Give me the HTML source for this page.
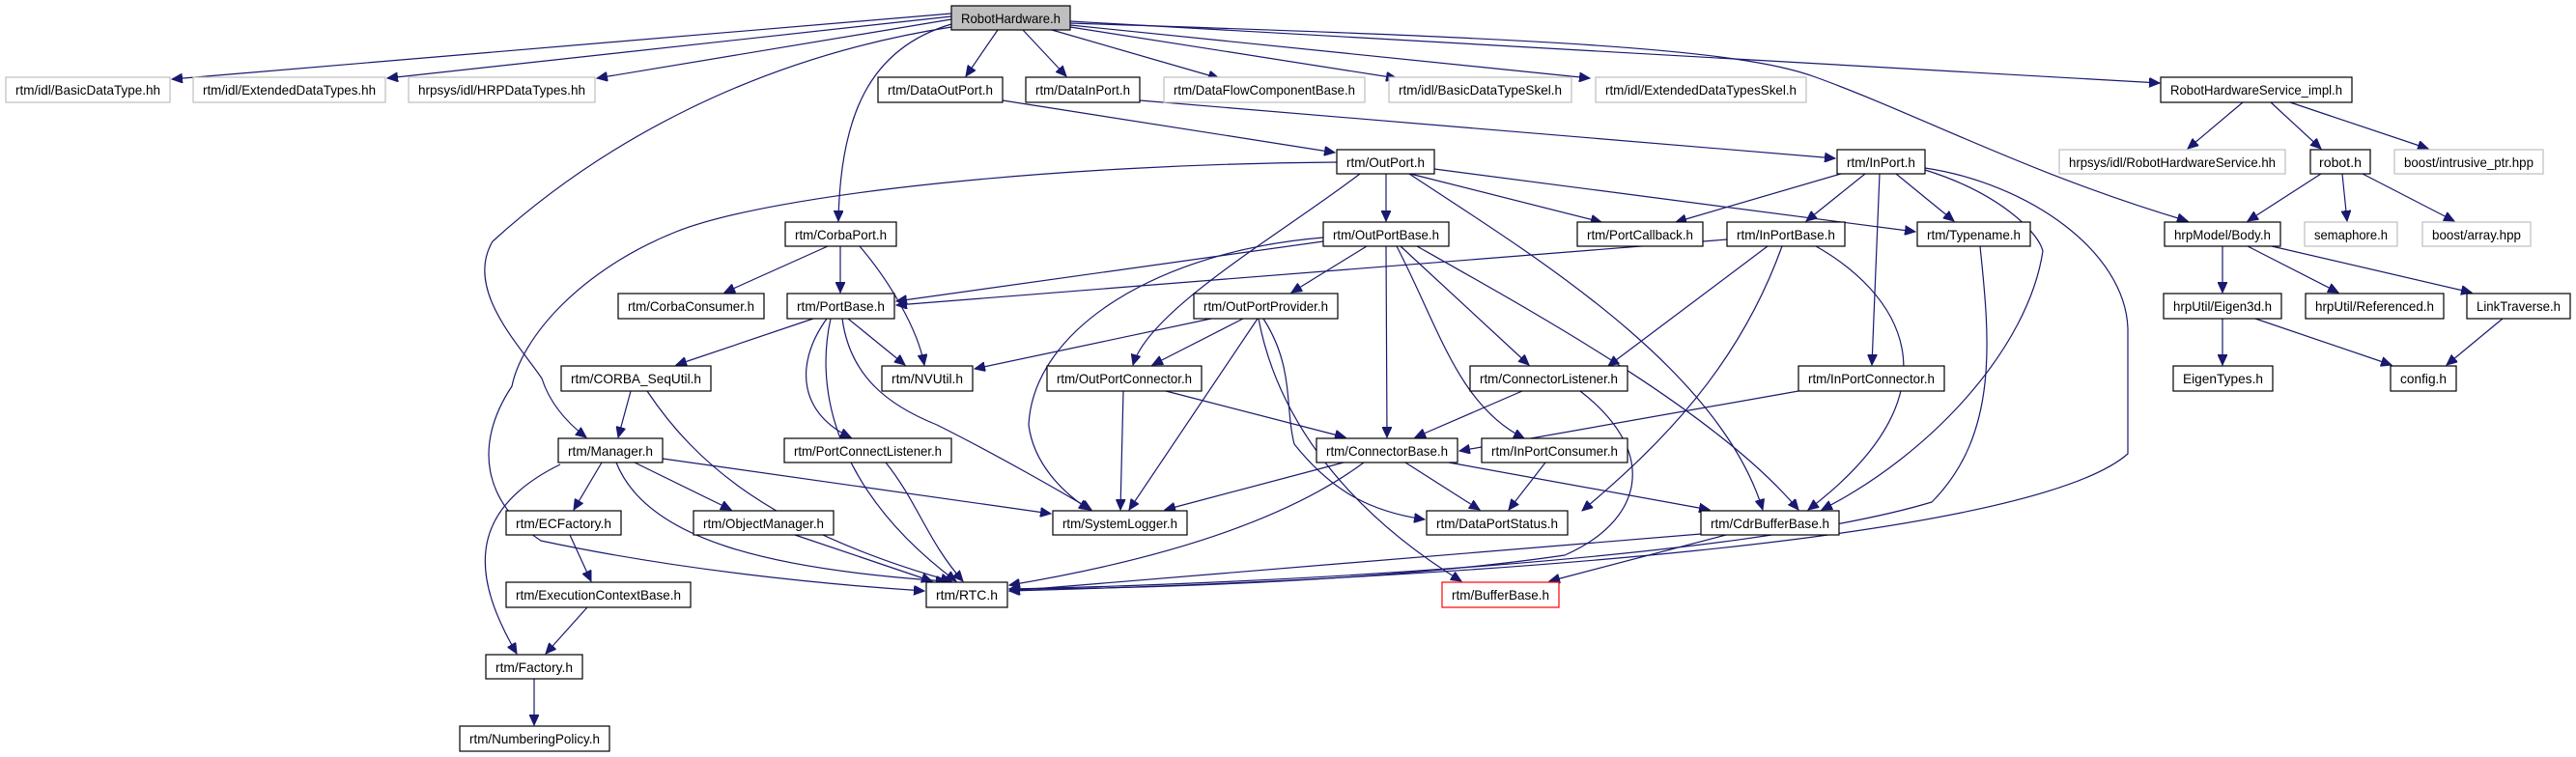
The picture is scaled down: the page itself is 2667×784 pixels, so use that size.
<!DOCTYPE html>
<html><head><meta charset="utf-8"><style>
html,body{margin:0;padding:0;background:#fff;}
svg{display:block;}
text{font-family:"Liberation Sans",sans-serif;font-size:14px;fill:#000;}
.n{fill:#fff;stroke:#000;stroke-width:1.2;}
.g{fill:#fff;stroke:#bfbfbf;stroke-width:1.2;}
.r{fill:#fff;stroke:#ff0000;stroke-width:1.2;}
.e path{fill:none;stroke:#191970;stroke-width:1.2;}
</style></head><body>
<svg width="2667" height="784" viewBox="0 0 2667 784" xmlns="http://www.w3.org/2000/svg">
<defs><marker id="a" markerUnits="userSpaceOnUse" markerWidth="12" markerHeight="10" refX="11" refY="5" orient="auto"><path d="M0,0 L11,5 L0,10 z" fill="#191970" stroke="#191970"/></marker></defs>
<g class="e" marker-end="url(#a)">
<path d="M985,14 L178,82" marker-end="url(#a)"/>
<path d="M985,17 L401,81" marker-end="url(#a)"/>
<path d="M985,20 L618,81" marker-end="url(#a)"/>
<path d="M985,25 C900,50 870,120 868,229" marker-end="url(#a)"/>
<path d="M985,28 C780,60 620,150 510,250 C480,300 540,360 561,392 C570,420 590,440 607,453" marker-end="url(#a)"/>
<path d="M1033,31 L1000,79" marker-end="url(#a)"/>
<path d="M1059,31 L1104,79" marker-end="url(#a)"/>
<path d="M1089,31 L1262,81" marker-end="url(#a)"/>
<path d="M1108,28 L1446,81" marker-end="url(#a)"/>
<path d="M1108,26 L1646,81" marker-end="url(#a)"/>
<path d="M1108,22 L2236,86" marker-end="url(#a)"/>
<path d="M1108,24 C1600,40 1800,50 1880,80 C1990,120 2100,180 2265,229" marker-end="url(#a)"/>
<path d="M1038,104 L1382,158" marker-end="url(#a)"/>
<path d="M1180,104 L1900,164" marker-end="url(#a)"/>
<path d="M1384,168 C1100,170 800,200 700,240 C600,280 540,350 530,400 C490,460 500,520 560,560 C700,590 850,605 957,612" marker-end="url(#a)"/>
<path d="M1408,180 C1330,240 1190,320 1173,378" marker-end="url(#a)"/>
<path d="M1435,180 L1435,229" marker-end="url(#a)"/>
<path d="M1460,180 L1658,230" marker-end="url(#a)"/>
<path d="M1485,175 L1983,240" marker-end="url(#a)"/>
<path d="M1459,180 C1580,260 1780,380 1825,528" marker-end="url(#a)"/>
<path d="M1906,180 L1735,230" marker-end="url(#a)"/>
<path d="M1931,180 L1870,229" marker-end="url(#a)"/>
<path d="M1946,180 L1938,378" marker-end="url(#a)"/>
<path d="M1963,180 L2023,229" marker-end="url(#a)"/>
<path d="M1993,174 C2100,190 2200,260 2203,340 L2203,470 C2100,560 1500,600 1045,612" marker-end="url(#a)"/>
<path d="M1993,176 C2070,200 2110,240 2115,260 C2100,360 2000,470 1886,528" marker-end="url(#a)"/>
<path d="M1788,248 L928,316" marker-end="url(#a)"/>
<path d="M1830,255 L1665,379" marker-end="url(#a)"/>
<path d="M1845,255 C1800,380 1720,460 1638,529" marker-end="url(#a)"/>
<path d="M1880,255 C1960,300 2040,400 1872,528" marker-end="url(#a)"/>
<path d="M2050,255 C2060,350 2070,450 2000,520 C1800,580 1300,605 1045,610" marker-end="url(#a)"/>
<path d="M1370,250 L928,312" marker-end="url(#a)"/>
<path d="M1370,246 C1200,260 1070,340 1065,440 C1070,480 1100,510 1128,528" marker-end="url(#a)"/>
<path d="M1415,255 L1337,303" marker-end="url(#a)"/>
<path d="M1435,255 L1436,453" marker-end="url(#a)"/>
<path d="M1446,255 C1490,340 1510,420 1578,454" marker-end="url(#a)"/>
<path d="M1450,255 L1583,378" marker-end="url(#a)"/>
<path d="M1467,255 C1600,330 1780,430 1862,528" marker-end="url(#a)"/>
<path d="M857,255 L750,303" marker-end="url(#a)"/>
<path d="M870,255 L870,303" marker-end="url(#a)"/>
<path d="M890,255 C920,290 950,340 957,378" marker-end="url(#a)"/>
<path d="M842,330 L700,378" marker-end="url(#a)"/>
<path d="M878,330 L937,378" marker-end="url(#a)"/>
<path d="M856,330 C820,380 830,430 881,453" marker-end="url(#a)"/>
<path d="M860,330 C840,420 880,520 990,602" marker-end="url(#a)"/>
<path d="M872,330 C880,390 920,420 970,440 C1030,470 1100,510 1130,528" marker-end="url(#a)"/>
<path d="M653,405 L640,453" marker-end="url(#a)"/>
<path d="M670,405 C720,480 800,550 985,602" marker-end="url(#a)"/>
<path d="M623,479 L594,528" marker-end="url(#a)"/>
<path d="M657,479 L757,528" marker-end="url(#a)"/>
<path d="M686,475 L1088,532" marker-end="url(#a)"/>
<path d="M638,479 C670,560 800,590 980,602" marker-end="url(#a)"/>
<path d="M580,481 C480,530 490,600 535,677" marker-end="url(#a)"/>
<path d="M590,554 L612,602" marker-end="url(#a)"/>
<path d="M608,629 L565,677" marker-end="url(#a)"/>
<path d="M823,554 L965,602" marker-end="url(#a)"/>
<path d="M553,703 L553,751" marker-end="url(#a)"/>
<path d="M917,479 C950,520 960,560 997,602" marker-end="url(#a)"/>
<path d="M1254,330 L1009,382" marker-end="url(#a)"/>
<path d="M1287,330 L1193,378" marker-end="url(#a)"/>
<path d="M1302,330 L1169,528" marker-end="url(#a)"/>
<path d="M1308,330 C1340,380 1330,420 1340,460 C1380,510 1420,530 1475,538" marker-end="url(#a)"/>
<path d="M1303,330 C1320,420 1380,520 1513,602" marker-end="url(#a)"/>
<path d="M1163,405 L1160,528" marker-end="url(#a)"/>
<path d="M1207,405 L1393,453" marker-end="url(#a)"/>
<path d="M1576,405 L1465,453" marker-end="url(#a)"/>
<path d="M1636,405 C1720,470 1700,540 1620,575 C1450,600 1200,610 1045,610" marker-end="url(#a)"/>
<path d="M1862,405 L1511,467" marker-end="url(#a)"/>
<path d="M1391,479 L1206,528" marker-end="url(#a)"/>
<path d="M1412,479 C1330,540 1200,580 1045,606" marker-end="url(#a)"/>
<path d="M1455,479 L1532,528" marker-end="url(#a)"/>
<path d="M1500,479 L1770,528" marker-end="url(#a)"/>
<path d="M1600,479 L1562,528" marker-end="url(#a)"/>
<path d="M1761,553 L1045,612" marker-end="url(#a)"/>
<path d="M1787,554 L1604,602" marker-end="url(#a)"/>
<path d="M2322,106 L2265,154" marker-end="url(#a)"/>
<path d="M2351,106 L2403,154" marker-end="url(#a)"/>
<path d="M2371,106 L2514,154" marker-end="url(#a)"/>
<path d="M2403,180 L2327,229" marker-end="url(#a)"/>
<path d="M2425,180 L2430,229" marker-end="url(#a)"/>
<path d="M2446,180 L2541,229" marker-end="url(#a)"/>
<path d="M2301,255 L2301,303" marker-end="url(#a)"/>
<path d="M2327,255 L2421,303" marker-end="url(#a)"/>
<path d="M2352,255 L2559,303" marker-end="url(#a)"/>
<path d="M2301,330 L2301,378" marker-end="url(#a)"/>
<path d="M2335,330 L2476,378" marker-end="url(#a)"/>
<path d="M2591,330 L2533,378" marker-end="url(#a)"/>
</g>
<g>
<rect x="985" y="6" width="123" height="25" fill="#bfbfbf" stroke="#000" stroke-width="1.2"/><text x="1046.5" y="24" text-anchor="middle" textLength="103" lengthAdjust="spacingAndGlyphs">RobotHardware.h</text>
<rect class="g" x="6" y="80" width="170" height="26"/><text x="91" y="98" text-anchor="middle" textLength="150" lengthAdjust="spacingAndGlyphs">rtm/idl/BasicDataType.hh</text>
<rect class="g" x="200" y="80" width="199" height="26"/><text x="299.5" y="98" text-anchor="middle" textLength="179" lengthAdjust="spacingAndGlyphs">rtm/idl/ExtendedDataTypes.hh</text>
<rect class="g" x="423" y="80" width="193" height="26"/><text x="519.5" y="98" text-anchor="middle" textLength="173" lengthAdjust="spacingAndGlyphs">hrpsys/idl/HRPDataTypes.hh</text>
<rect class="n" x="909" y="80" width="129" height="26"/><text x="973.5" y="98" text-anchor="middle" textLength="109" lengthAdjust="spacingAndGlyphs">rtm/DataOutPort.h</text>
<rect class="n" x="1062" y="80" width="118" height="26"/><text x="1121" y="98" text-anchor="middle" textLength="98" lengthAdjust="spacingAndGlyphs">rtm/DataInPort.h</text>
<rect class="g" x="1205" y="80" width="208" height="26"/><text x="1309" y="98" text-anchor="middle" textLength="188" lengthAdjust="spacingAndGlyphs">rtm/DataFlowComponentBase.h</text>
<rect class="g" x="1438" y="80" width="189" height="26"/><text x="1532.5" y="98" text-anchor="middle" textLength="169" lengthAdjust="spacingAndGlyphs">rtm/idl/BasicDataTypeSkel.h</text>
<rect class="g" x="1652" y="80" width="218" height="26"/><text x="1761" y="98" text-anchor="middle" textLength="198" lengthAdjust="spacingAndGlyphs">rtm/idl/ExtendedDataTypesSkel.h</text>
<rect class="n" x="2237" y="80" width="198" height="26"/><text x="2336" y="98" text-anchor="middle" textLength="178" lengthAdjust="spacingAndGlyphs">RobotHardwareService_impl.h</text>
<rect class="n" x="1384" y="155" width="101" height="25"/><text x="1434.5" y="173" text-anchor="middle" textLength="81" lengthAdjust="spacingAndGlyphs">rtm/OutPort.h</text>
<rect class="n" x="1902" y="155" width="91" height="25"/><text x="1947.5" y="173" text-anchor="middle" textLength="71" lengthAdjust="spacingAndGlyphs">rtm/InPort.h</text>
<rect class="g" x="2132" y="155" width="234" height="25"/><text x="2249" y="173" text-anchor="middle" textLength="214" lengthAdjust="spacingAndGlyphs">hrpsys/idl/RobotHardwareService.hh</text>
<rect class="n" x="2392" y="155" width="62" height="25"/><text x="2423" y="173" text-anchor="middle" textLength="44" lengthAdjust="spacingAndGlyphs">robot.h</text>
<rect class="g" x="2479" y="155" width="154" height="25"/><text x="2556" y="173" text-anchor="middle" textLength="134" lengthAdjust="spacingAndGlyphs">boost/intrusive_ptr.hpp</text>
<rect class="n" x="813" y="230" width="115" height="25"/><text x="870.5" y="248" text-anchor="middle" textLength="95" lengthAdjust="spacingAndGlyphs">rtm/CorbaPort.h</text>
<rect class="n" x="1370" y="230" width="130" height="25"/><text x="1435" y="248" text-anchor="middle" textLength="110" lengthAdjust="spacingAndGlyphs">rtm/OutPortBase.h</text>
<rect class="n" x="1633" y="230" width="130" height="25"/><text x="1698" y="248" text-anchor="middle" textLength="110" lengthAdjust="spacingAndGlyphs">rtm/PortCallback.h</text>
<rect class="n" x="1788" y="230" width="122" height="25"/><text x="1849" y="248" text-anchor="middle" textLength="102" lengthAdjust="spacingAndGlyphs">rtm/InPortBase.h</text>
<rect class="n" x="1985" y="230" width="117" height="25"/><text x="2043.5" y="248" text-anchor="middle" textLength="97" lengthAdjust="spacingAndGlyphs">rtm/Typename.h</text>
<rect class="n" x="2241" y="230" width="120" height="25"/><text x="2301" y="248" text-anchor="middle" textLength="100" lengthAdjust="spacingAndGlyphs">hrpModel/Body.h</text>
<rect class="g" x="2386" y="230" width="96" height="25"/><text x="2434" y="248" text-anchor="middle" textLength="76" lengthAdjust="spacingAndGlyphs">semaphore.h</text>
<rect class="g" x="2508" y="230" width="112" height="25"/><text x="2564" y="248" text-anchor="middle" textLength="92" lengthAdjust="spacingAndGlyphs">boost/array.hpp</text>
<rect class="n" x="640" y="304" width="151" height="26"/><text x="715.5" y="322" text-anchor="middle" textLength="131" lengthAdjust="spacingAndGlyphs">rtm/CorbaConsumer.h</text>
<rect class="n" x="815" y="304" width="111" height="26"/><text x="870.5" y="322" text-anchor="middle" textLength="91" lengthAdjust="spacingAndGlyphs">rtm/PortBase.h</text>
<rect class="n" x="1236" y="304" width="149" height="26"/><text x="1310.5" y="322" text-anchor="middle" textLength="129" lengthAdjust="spacingAndGlyphs">rtm/OutPortProvider.h</text>
<rect class="n" x="2240" y="304" width="122" height="26"/><text x="2301" y="322" text-anchor="middle" textLength="102" lengthAdjust="spacingAndGlyphs">hrpUtil/Eigen3d.h</text>
<rect class="n" x="2387" y="304" width="143" height="26"/><text x="2458.5" y="322" text-anchor="middle" textLength="123" lengthAdjust="spacingAndGlyphs">hrpUtil/Referenced.h</text>
<rect class="n" x="2554" y="304" width="107" height="26"/><text x="2607.5" y="322" text-anchor="middle" textLength="87" lengthAdjust="spacingAndGlyphs">LinkTraverse.h</text>
<rect class="n" x="581" y="379" width="155" height="26"/><text x="658.5" y="397" text-anchor="middle" textLength="135" lengthAdjust="spacingAndGlyphs">rtm/CORBA_SeqUtil.h</text>
<rect class="n" x="913" y="379" width="94" height="26"/><text x="960" y="397" text-anchor="middle" textLength="74" lengthAdjust="spacingAndGlyphs">rtm/NVUtil.h</text>
<rect class="n" x="1084" y="379" width="160" height="26"/><text x="1164" y="397" text-anchor="middle" textLength="140" lengthAdjust="spacingAndGlyphs">rtm/OutPortConnector.h</text>
<rect class="n" x="1522" y="379" width="163" height="26"/><text x="1603.5" y="397" text-anchor="middle" textLength="143" lengthAdjust="spacingAndGlyphs">rtm/ConnectorListener.h</text>
<rect class="n" x="1862" y="379" width="151" height="26"/><text x="1937.5" y="397" text-anchor="middle" textLength="131" lengthAdjust="spacingAndGlyphs">rtm/InPortConnector.h</text>
<rect class="n" x="2250" y="379" width="103" height="26"/><text x="2301.5" y="397" text-anchor="middle" textLength="83" lengthAdjust="spacingAndGlyphs">EigenTypes.h</text>
<rect class="n" x="2475" y="379" width="68" height="26"/><text x="2509" y="397" text-anchor="middle" textLength="48" lengthAdjust="spacingAndGlyphs">config.h</text>
<rect class="n" x="578" y="454" width="108" height="25"/><text x="632" y="472" text-anchor="middle" textLength="88" lengthAdjust="spacingAndGlyphs">rtm/Manager.h</text>
<rect class="n" x="812" y="454" width="173" height="25"/><text x="898.5" y="472" text-anchor="middle" textLength="153" lengthAdjust="spacingAndGlyphs">rtm/PortConnectListener.h</text>
<rect class="n" x="1363" y="454" width="146" height="25"/><text x="1436" y="472" text-anchor="middle" textLength="126" lengthAdjust="spacingAndGlyphs">rtm/ConnectorBase.h</text>
<rect class="n" x="1534" y="454" width="151" height="25"/><text x="1609.5" y="472" text-anchor="middle" textLength="131" lengthAdjust="spacingAndGlyphs">rtm/InPortConsumer.h</text>
<rect class="n" x="524" y="529" width="119" height="25"/><text x="583.5" y="547" text-anchor="middle" textLength="99" lengthAdjust="spacingAndGlyphs">rtm/ECFactory.h</text>
<rect class="n" x="718" y="529" width="145" height="25"/><text x="790.5" y="547" text-anchor="middle" textLength="125" lengthAdjust="spacingAndGlyphs">rtm/ObjectManager.h</text>
<rect class="n" x="1090" y="529" width="139" height="25"/><text x="1159.5" y="547" text-anchor="middle" textLength="119" lengthAdjust="spacingAndGlyphs">rtm/SystemLogger.h</text>
<rect class="n" x="1477" y="529" width="146" height="25"/><text x="1550" y="547" text-anchor="middle" textLength="126" lengthAdjust="spacingAndGlyphs">rtm/DataPortStatus.h</text>
<rect class="n" x="1761" y="529" width="143" height="25"/><text x="1832.5" y="547" text-anchor="middle" textLength="123" lengthAdjust="spacingAndGlyphs">rtm/CdrBufferBase.h</text>
<rect class="n" x="524" y="603" width="191" height="26"/><text x="619.5" y="621" text-anchor="middle" textLength="171" lengthAdjust="spacingAndGlyphs">rtm/ExecutionContextBase.h</text>
<rect class="n" x="959" y="603" width="84" height="26"/><text x="1001" y="621" text-anchor="middle" textLength="64" lengthAdjust="spacingAndGlyphs">rtm/RTC.h</text>
<rect class="r" x="1493" y="603" width="121" height="26"/><text x="1553.5" y="621" text-anchor="middle" textLength="101" lengthAdjust="spacingAndGlyphs">rtm/BufferBase.h</text>
<rect class="n" x="503" y="678" width="100" height="25"/><text x="553" y="696" text-anchor="middle" textLength="80" lengthAdjust="spacingAndGlyphs">rtm/Factory.h</text>
<rect class="n" x="476" y="752" width="155" height="26"/><text x="553.5" y="770" text-anchor="middle" textLength="135" lengthAdjust="spacingAndGlyphs">rtm/NumberingPolicy.h</text>
</g>
</svg>
</body></html>
